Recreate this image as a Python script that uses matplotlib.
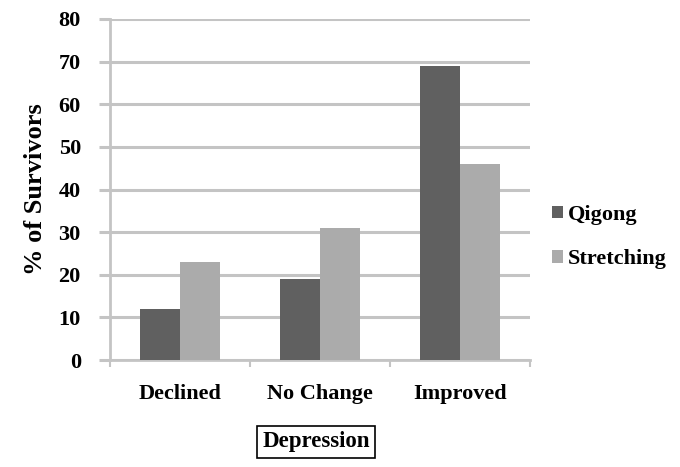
import matplotlib
matplotlib.use("Agg")
import matplotlib.pyplot as plt
import numpy as np

categories = ["Declined", "No Change", "Improved"]
qigong = [12, 19, 69]
stretching = [23, 31, 46]
yticks = [0, 10, 20, 30, 40, 50, 60, 70, 80]

plt.rcParams['font.family'] = ['Liberation Serif', 'DejaVu Serif']
plt.rcParams['font.weight'] = 'bold'

fig = plt.figure(figsize=(6.8, 4.67), dpi=100)
ax = fig.add_axes([110/680, 1-360/467, 420/680, 341/467])

x = np.arange(len(categories))
w = 0.2857
ax.bar(x - w/2, qigong, w, color='#606060', label='Qigong', zorder=3)
ax.bar(x + w/2, stretching, w, color='#ababab', label='Stretching', zorder=3)

ax.set_xlim(-0.5, 2.5)
ax.set_ylim(0, 80)
ax.set_yticks(yticks)
ax.yaxis.grid(True, color='#c4c4c4', linewidth=2.2, zorder=0)
ax.set_xticks(x)
ax.set_xticklabels(categories, fontsize=16, fontweight='bold')
ax.set_xticks([-0.5, 0.5, 1.5, 2.5], minor=True)
ax.tick_params(axis='x', which='major', length=0, pad=17)
ax.tick_params(axis='x', which='minor', length=5, color='#c4c4c4', width=1.5)
ax.tick_params(axis='y', length=8, color='#c4c4c4', width=2.2, labelsize=16, pad=13)
for lab in ax.get_yticklabels():
    lab.set_fontweight('bold')
for s in ['top', 'right']:
    ax.spines[s].set_visible(False)
ax.spines['left'].set_color('#c4c4c4')
ax.spines['left'].set_linewidth(2)
ax.spines['bottom'].set_color('#c4c4c4')
ax.spines['bottom'].set_linewidth(2)
ax.set_ylabel('% of Survivors', fontsize=19, fontweight='bold', labelpad=8)

leg = ax.legend(loc='center left', bbox_to_anchor=(1.005, 0.36), frameon=False,
                fontsize=16, handlelength=0.5, handleheight=0.5, handletextpad=0.2,
                labelspacing=1.1)
for t in leg.get_texts():
    t.set_fontweight('bold')

fig.text(316/680, 1-442/467, 'Depression', ha='center', va='center', fontsize=16.5,
         fontweight='bold',
         bbox=dict(boxstyle='square,pad=0.25', facecolor='white', edgecolor='black', linewidth=1.2))

fig.savefig('out.png', dpi=100)
